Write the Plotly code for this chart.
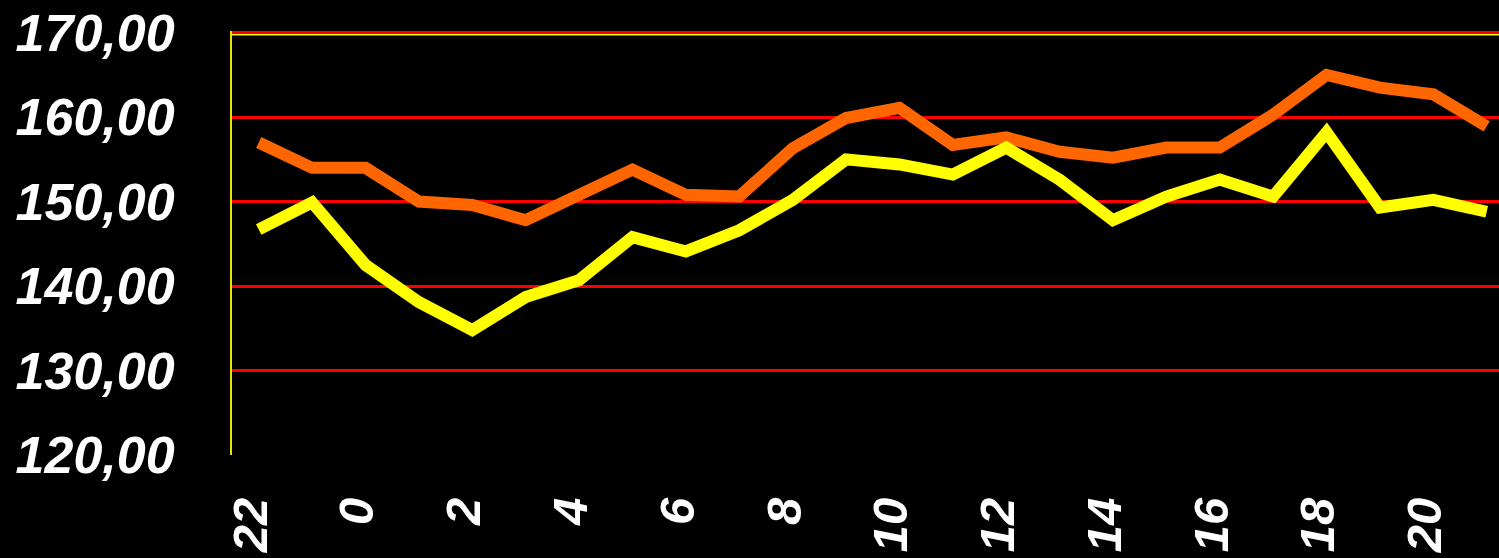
import plotly.graph_objects as go

hours = [22, 23, 0, 1, 2, 3, 4, 5, 6, 7, 8, 9, 10, 11, 12, 13, 14, 15, 16, 17, 18, 19, 20, 21]
orange_vals = [157.0, 154.0, 154.0, 150.0, 149.6, 147.8, 150.8, 153.8, 150.8, 150.6, 156.3,
               159.9, 161.1, 156.7, 157.6, 155.9, 155.2, 156.4, 156.4, 160.3, 165.0, 163.5,
               162.7, 158.9]
yellow_vals = [146.7, 149.9, 142.5, 138.1, 134.8, 138.7, 140.7, 145.8, 144.1, 146.6, 150.2,
               155.0, 154.4, 153.2, 156.4, 152.6, 147.8, 150.6, 152.6, 150.6, 158.2, 149.3,
               150.2, 148.8]
y_ticks = [120, 130, 140, 150, 160, 170]
y_tick_labels = ["120,00", "130,00", "140,00", "150,00", "160,00", "170,00"]

idx = list(range(len(hours)))
x_tickvals = idx[::2]
x_ticktext = [str(h) for h in hours[::2]]

fig = go.Figure()
fig.add_trace(go.Scatter(x=idx, y=orange_vals, mode="lines",
                         line=dict(color="#FF6600", width=12), hoverinfo="skip"))
fig.add_trace(go.Scatter(x=idx, y=yellow_vals, mode="lines",
                         line=dict(color="#FFFF00", width=12), hoverinfo="skip"))

yfont = dict(family="Liberation Sans, Arial, sans-serif", size=52, color="white",
             style="italic", weight="bold")
xfont = dict(family="Liberation Sans, Arial, sans-serif", size=49, color="white",
             style="italic", weight="bold")

fig.update_layout(
    width=1499, height=558,
    margin=dict(l=232, r=0, t=31, b=103),
    paper_bgcolor="black", plot_bgcolor="black",
    showlegend=False,
    xaxis=dict(range=[-0.5, 23.23], tickvals=x_tickvals, ticktext=x_ticktext,
               tickangle=-90, tickfont=xfont, showgrid=False, zeroline=False,
               showline=False, ticks="", ticklabelstandoff=32, ticklabelshift=-8,
               automargin=False, fixedrange=True),
    yaxis=dict(range=[120, 170.2], tickvals=y_ticks, ticktext=y_tick_labels,
               tickfont=yfont, showgrid=True, gridcolor="#FF0000", gridwidth=3,
               zeroline=False, showline=True, linecolor="#E6E600", linewidth=2,
               ticks="", ticklabelstandoff=45, automargin=False, fixedrange=True),
    shapes=[dict(type="line", xref="paper", yref="y", x0=0, x1=1, y0=169.8, y1=169.8,
                 line=dict(color="#FFFF00", width=2), layer="below")],
)

fig.write_html("out.html")
